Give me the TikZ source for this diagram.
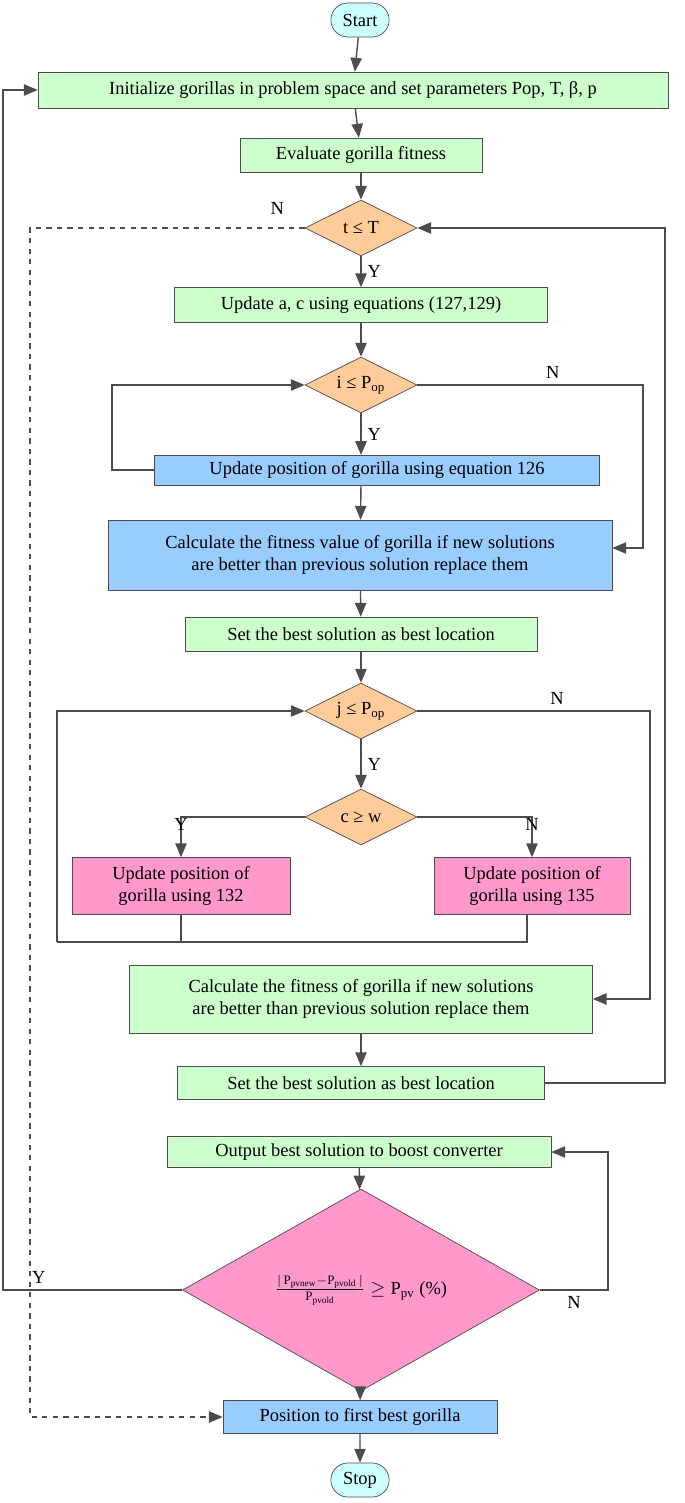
\documentclass[tikz,border=0pt]{standalone}
\usepackage{fontspec}
\setmainfont{Liberation Serif}
\usetikzlibrary{shapes.geometric,shapes.misc,arrows,positioning,calc}
\definecolor{boxgreen}{RGB}{204,255,204}
\definecolor{boxblue}{RGB}{153,204,255}
\definecolor{boxpink}{RGB}{255,153,204}
\definecolor{decor}{RGB}{255,204,153}
\definecolor{termcyan}{RGB}{204,255,255}
\begin{document}
\begin{tikzpicture}[x=0.02cm,y=-0.02cm,
		font=\fontsize{10.5}{12.5}\selectfont, >=triangle 45,
		process/.style={rectangle, draw=black!70, align=center, inner sep=2pt},
		green/.style={process, fill=boxgreen},
		blue/.style={process, fill=boxblue},
		pink/.style={process, fill=boxpink},
		decision/.style={diamond, draw=black!70, fill=decor, aspect=2,
		inner sep=0pt, minimum width=2.24cm, minimum height=1.12cm},
		term/.style={rounded rectangle, draw=black!70, fill=termcyan,
		minimum width=1.4cm, minimum height=0.68cm},
		line/.style={draw=black!70, thick},
		lbl/.style={font=\fontsize{10.5}{12}\selectfont}
	]
		\useasboundingbox (0,0) rectangle (685,1503);
		
		% Top part
		\node[term] (start) at (360,20) {Start};
		\node[green, minimum width=12.6cm, minimum height=0.72cm] 
		(init) at (353,90) {Initialize gorillas in problem space and set parameters Pop, T, β, p};
		\node[green, minimum width=4.84cm, minimum height=0.68cm] 
		(eval) at (361,155) {Evaluate gorilla fitness};
		\node[decision] (t) at (361,228) {t ≤ T};
		\node[green, minimum width=7.46cm, minimum height=0.7cm] 
		(upac) at (361,305) {Update a, c using equations (127,129)};
		
		% First loop
		\node[decision] (i) at (361,385) {i ≤ P\textsubscript{op}};
		\node[blue, minimum width=8.9cm, minimum height=0.6cm] 
		(uppos) at (377,470) {Update position of gorilla using equation 126};
		\node[blue, minimum width=10.08cm, minimum height=1.4cm] 
		(calc1) at (360,555) {Calculate the fitness value of gorilla if new solutions\\
		are better than previous solution replace them};
		\node[green, minimum width=7.04cm, minimum height=0.68cm] 
		(best1) at (361,634) {Set the best solution as best location};
		
		% Second loop
		\node[decision] (j) at (361,711) {j ≤ P\textsubscript{op}};
		\node[decision] (c) at (361,817) {c ≥ w};
		\node[pink, minimum width=4.36cm, minimum height=1.14cm] 
		(p132) at (181,886) {Update position of\\gorilla using 132};
		\node[pink, minimum width=3.92cm, minimum height=1.14cm] 
		(p135) at (532,886) {Update position of\\gorilla using 135};
		\node[green, minimum width=9.26cm, minimum height=1.36cm] 
		(calc2) at (361,999) {Calculate the fitness of gorilla if new solutions\\
		are better than previous solution replace them};
		\node[green, minimum width=7.34cm, minimum height=0.66cm] 
		(best2) at (361,1083) {Set the best solution as best location};
		
		% Bottom part
		\node[green, minimum width=7.68cm, minimum height=0.62cm] 
		(out) at (359,1152) {Output best solution to boost converter};
		\node[diamond, draw=black!70, fill=boxpink, inner sep=0pt,
		minimum width=7.14cm, minimum height=3.2cm] (chk) at (361,1290)
		{$\frac{|\,\mathrm{P_{pvnew}}-\mathrm{P_{pvold}}\,|}{\mathrm{P_{pvold}}}\geq\mathrm{P_{pv}}$ (\%)};
		\node[blue, minimum width=5.48cm, minimum height=0.66cm] 
		(pos) at (360,1417) {Position to first best gorilla};
		\node[term] (stop) at (360,1480) {Stop};
		
		% Coordinates for the connector corners
		\coordinate (lj) at (57,942);
		\coordinate (rj) at (527,942);
		
		% Straight arrows
		\draw[line,->] (start) -- (init);
		\draw[line,->] (init) -- (eval);
		\draw[line,->] (eval) -- (t);
		\draw[line,->] (t) -- node[right,lbl]{Y} (upac);
		\draw[line,->] (upac) -- (i);
		\draw[line,->] (i) -- node[right,lbl]{Y} (361,455);
		\draw[line,->] (361,485) -- (calc1);
		\draw[line,->] (calc1) -- (best1);
		\draw[line,->] (best1) -- (j);
		\draw[line,->] (j) -- node[right,lbl]{Y} (c);
		\draw[line,->] (calc2) -- (best2);
		\draw[line,->] (out) -- (chk);
		\draw[line,->] (chk) -- (pos);
		\draw[line,->] (pos) -- (stop);
		
		% Loops
		\draw[line,->] (uppos.west) -| (112,385) -- (i.west);
		\draw[line,->] (i.east) -- node[above,lbl,pos=0.6]{N} (643,385) |- (calc1.east |- 0,548);
		\draw[line,->] (c.west) -| node[above,lbl,pos=0.75]{Y} (p132.north);
		\draw[line,->] (c.east) -| node[above,lbl,pos=0.75]{N} (p135.north);
		\draw[line] (p132.south) |- (lj);
		\draw[line] (p135.south -| rj) -- (rj) -- (lj);
		\draw[line,->] (lj) |- (j.west);
		\draw[line,->] (j.east) -- node[above,lbl,pos=0.6]{N} (650,711) |- (calc2.east);
		\draw[line,->] (best2.east) -- (665,1083) |- (t.east);
		\draw[line,->] (chk.east) -- node[above,lbl,pos=0.5,yshift=-14pt]{N} (608,1290) |- (out.east);
		\draw[line,->] (chk.west) -- node[above,lbl,pos=0.8]{Y} (3,1290) |- (init.west);
		\draw[line,dashed,->] (t.west) -- node[above,lbl,pos=0.1,yshift=4pt]{N} (30,228) |- (pos.west);
	\end{tikzpicture}
\end{document}
